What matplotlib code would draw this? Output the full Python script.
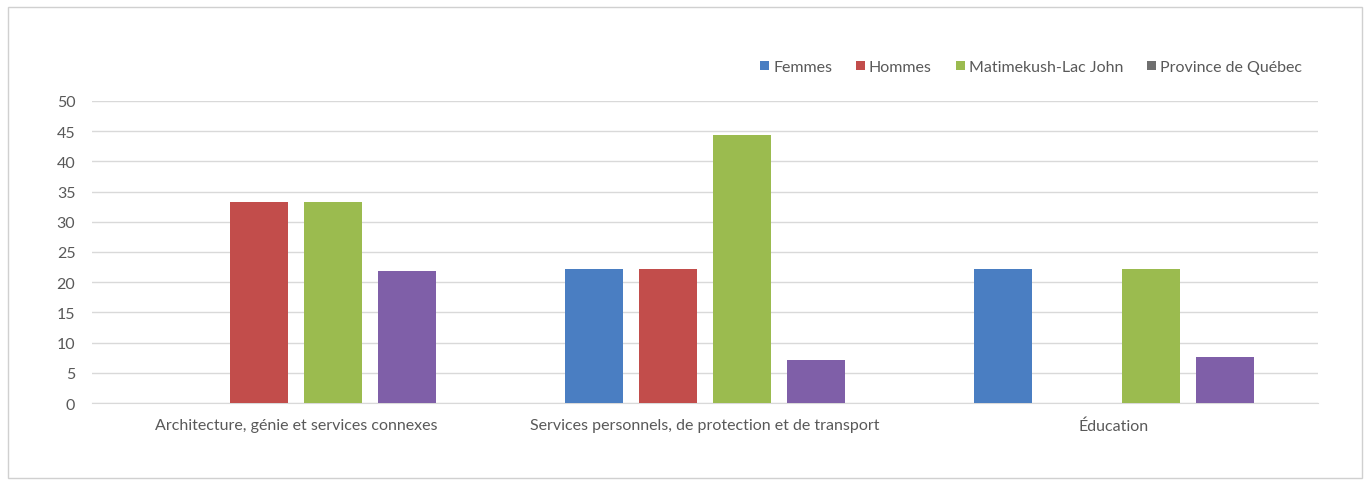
import matplotlib.pyplot as plt
import numpy as np
from matplotlib.patches import Rectangle, Patch

plt.rcParams['font.family'] = ['Lato', 'DejaVu Sans']

# Data
categories = ["Architecture, génie et services connexes",
              "Services personnels, de protection et de transport",
              "Éducation"]
series = ["Femmes", "Hommes", "Matimekush-Lac John", "Province de Québec"]
femmes = [0, 22.2, 22.2]
hommes = [33.3, 22.2, 0]
matimekush = [33.3, 44.4, 22.2]
quebec = [21.9, 7.1, 7.6]

colors = ['#4A7EC2', '#C24D4B', '#9BBB4F', '#7F5FA8']
legend_colors = ['#4A7EC2', '#C24D4B', '#9BBB4F', '#6F6F6F']

fig = plt.figure(figsize=(13.7, 4.85), dpi=100)
fig.patches.append(Rectangle((0.006, 0.012), 0.988, 0.972, transform=fig.transFigure,
                             fill=False, edgecolor='#D0D0D0', linewidth=1))
ax = fig.add_axes([92 / 1370, 1 - 404 / 485, (1318 - 92) / 1370, (404 - 102) / 485])

x = np.arange(len(categories))
width = 0.142
step = 0.181
for i, vals in enumerate([femmes, hommes, matimekush, quebec]):
    ax.bar(x + (i - 1.5) * step, vals, width, color=colors[i], zorder=3)

ax.set_xlim(-0.5, 2.5)
ax.set_ylim(0, 50)
ax.set_yticks(range(0, 51, 5))
ax.set_xticks(x)
ax.set_xticklabels(categories)
ax.grid(axis='y', color='#D9D9D9', linewidth=1, zorder=0)
for s in ['top', 'right', 'left']:
    ax.spines[s].set_visible(False)
ax.spines['bottom'].set_color('#D9D9D9')
ax.tick_params(axis='both', length=0, colors='#595959', labelsize=11.5)
ax.tick_params(axis='y', pad=12)
ax.tick_params(axis='x', pad=11)

handles = [Patch(facecolor=c, label=s) for c, s in zip(legend_colors, series)]
fig.legend(handles=handles, loc='center right', bbox_to_anchor=(1316 / 1370, 1 - 68 / 485),
           ncol=4, frameon=False, fontsize=11.5, handlelength=0.55, handleheight=0.55,
           handletextpad=0.25, columnspacing=1.5, labelcolor='#595959')

plt.savefig('out.png', dpi=100)
